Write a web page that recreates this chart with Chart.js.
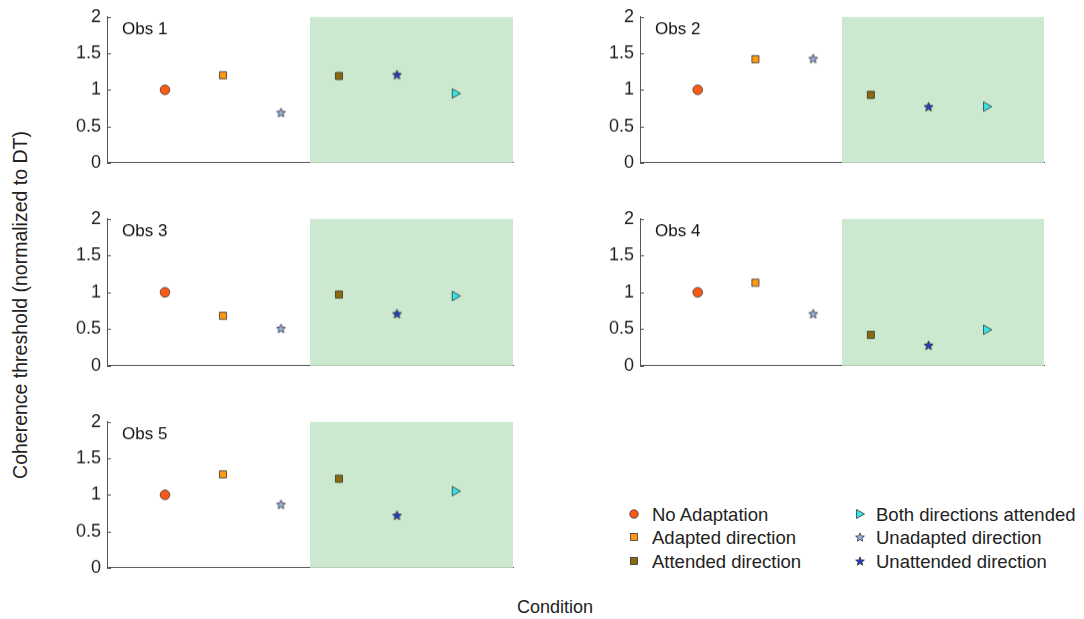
<!DOCTYPE html>
<html>
<head>
<meta charset="utf-8">
<script src="https://cdn.jsdelivr.net/npm/chart.js@4.4.1/dist/chart.umd.min.js"></script>
<style>
  body { margin: 0; background: #fff; font-family: "Liberation Sans", Arial, sans-serif; }
  #page { position: relative; width: 1084px; height: 619px; overflow: hidden; }
  canvas.panel { position: absolute; }
  .txt { position: absolute; color: #222; white-space: nowrap; }
  #ylabel { left: 20px; top: 305px; font-size: 19.5px; transform: translate(-50%, -50%) rotate(-90deg); }
  #xlabel { left: 555px; top: 607px; font-size: 18px; transform: translate(-50%, -50%); }
  .leg { position: absolute; font-size: 18.5px; color: #222; white-space: nowrap; transform: translateY(-50%); }
  .legmark { position: absolute; transform: translate(-50%, -50%); }
</style>
</head>
<body>
<div id="page">
  <div id="ylabel" class="txt">Coherence threshold (normalized to DT)</div>
  <div id="xlabel" class="txt">Condition</div>
</div>
<script>
// Conditions, in plotting order along the x axis
const conditions = ['No Adaptation', 'Adapted direction', 'Unadapted direction',
                    'Attended direction', 'Unattended direction', 'Both directions attended'];
const xSlots = [1, 2, 3, 4, 5, 6];

// Thresholds per observer (same order as conditions)
const obs1 = [1.00, 1.20, 0.69, 1.19, 1.21, 0.95];
const obs2 = [1.00, 1.42, 1.43, 0.93, 0.77, 0.77];
const obs3 = [1.00, 0.68, 0.51, 0.97, 0.71, 0.95];
const obs4 = [1.00, 1.13, 0.71, 0.42, 0.28, 0.49];
const obs5 = [1.00, 1.28, 0.87, 1.22, 0.72, 1.05];

const obsNames = ['Obs 1', 'Obs 2', 'Obs 3', 'Obs 4', 'Obs 5'];
const yTicks = [0, 0.5, 1, 1.5, 2];

// Marker colours for each condition
const fills = ['#ff5a14', '#ff9914', '#9db1e6', '#8a6a0c', '#1f3fd0', '#33e6e6'];

function makeStar(fill, size) {
    const c = document.createElement('canvas');
    c.width = size; c.height = size;
    const ctx = c.getContext('2d');
    const cx = size / 2, cy = size / 2 + 0.5, R = size / 2 - 0.8, r = R * 0.45;
    ctx.beginPath();
    for (let i = 0; i < 10; i++) {
        const a = -Math.PI / 2 + i * Math.PI / 5;
        const rad = i % 2 ? r : R;
        const px = cx + rad * Math.cos(a), py = cy + rad * Math.sin(a);
        if (i === 0) ctx.moveTo(px, py); else ctx.lineTo(px, py);
    }
    ctx.closePath();
    ctx.fillStyle = fill;
    ctx.fill();
    ctx.lineWidth = 0.8;
    ctx.strokeStyle = '#222';
    ctx.stroke();
    return c;
}

const starLight = makeStar(fills[2], 11);
const starDark = makeStar(fills[4], 11);
const pointStyles = ['circle', 'rect', starLight, 'rect', starDark, 'triangle'];
const pointRadii = [4.8, 5, 5, 5, 5, 5.5];
const rotations = [0, 0, 0, 0, 0, 90];

// Green "attention" region, inner ticks and panel title
const panelPlugin = {
    id: 'panelDecor',
    beforeDatasetsDraw(chart, args, opts) {
        const { ctx, chartArea, scales } = chart;
        const x0 = scales.x.getPixelForValue(3.5);
        const x1 = scales.x.getPixelForValue(7);
        ctx.save();
        ctx.fillStyle = '#cce9cf';
        ctx.fillRect(x0, chartArea.top, x1 - x0, chartArea.bottom - chartArea.top);
        // small inward tick marks
        ctx.strokeStyle = '#555';
        ctx.lineWidth = 1;
        yTicks.forEach(v => {
            const py = Math.round(scales.y.getPixelForValue(v)) + 0.5;
            ctx.beginPath();
            ctx.moveTo(chartArea.left, py);
            ctx.lineTo(chartArea.left + 4, py);
            ctx.stroke();
        });
        ctx.fillStyle = '#111';
        ctx.font = '17px "Liberation Sans", Arial, sans-serif';
        ctx.textBaseline = 'middle';
        ctx.fillText(opts.title, chartArea.left + 15, chartArea.top + 13);
        ctx.restore();
    }
};

// Panel placement: chart area left/right/top/bottom in page pixels
const panels = [
    { vals: obs1, left: 107, right: 513, top: 17, bottom: 162 },
    { vals: obs2, left: 640, right: 1044, top: 17, bottom: 162 },
    { vals: obs3, left: 107, right: 513, top: 219, bottom: 365 },
    { vals: obs4, left: 640, right: 1044, top: 219, bottom: 365 },
    { vals: obs5, left: 107, right: 513, top: 422, bottom: 567 }
];

const page = document.getElementById('page');
const axisW = 57, padR = 7;

panels.forEach((p, k) => {
    const cv = document.createElement('canvas');
    cv.className = 'panel';
    const w = (p.right - p.left) + axisW + padR;
    let h = (p.bottom - p.top) + 24;
    cv.width = w; cv.height = h;
    cv.style.left = (p.left - axisW) + 'px';
    cv.style.top = (p.top - 12) + 'px';
    page.appendChild(cv);

    const chart = new Chart(cv, {
        type: 'scatter',
        data: {
            datasets: conditions.map((c, i) => ({
                label: c,
                data: [{ x: xSlots[i], y: p.vals[i] }],
                pointStyle: pointStyles[i],
                pointRadius: pointRadii[i],
                pointRotation: rotations[i],
                backgroundColor: fills[i],
                borderColor: '#333',
                borderWidth: 0.8
            }))
        },
        plugins: [panelPlugin],
        options: {
            responsive: false,
            maintainAspectRatio: false,
            animation: false,
            events: [],
            layout: { padding: { top: 0, bottom: 0, right: padR, left: 0 } },
            scales: {
                x: {
                    type: 'linear',
                    min: 0,
                    max: 7,
                    ticks: { display: false },
                    grid: { display: false, drawTicks: false },
                    border: { display: true, color: '#555', width: 1 },
                    afterFit: (scale) => { scale.height = 0; }
                },
                y: {
                    min: 0,
                    max: 2,
                    afterBuildTicks: (scale) => { scale.ticks = yTicks.map(v => ({ value: v })); },
                    ticks: {
                        color: '#222',
                        padding: 6,
                        callback: (v) => String(v),
                        font: { size: 18, family: '"Liberation Sans", Arial, sans-serif' }
                    },
                    grid: { display: false, drawTicks: false },
                    border: { display: true, color: '#555', width: 1 },
                    afterFit: (scale) => { scale.width = axisW; }
                }
            },
            plugins: {
                legend: { display: false },
                tooltip: { enabled: false },
                panelDecor: { title: obsNames[k] }
            }
        }
    });

    // second pass: size the canvas so the plot area lands where it should
    const dTop = chart.chartArea.top;
    const dBot = h - chart.chartArea.bottom;
    h = (p.bottom - p.top) + dTop + dBot;
    cv.style.top = (p.top - dTop) + 'px';
    chart.resize(w, h);
});

// Legend (two columns, three rows)
const legendSpots = [
    { mx: 634, tx: 652, y: 515 },
    { mx: 634, tx: 652, y: 538 },
    { mx: 634, tx: 652, y: 562 },
    { mx: 860, tx: 876, y: 515 },
    { mx: 860, tx: 876, y: 538 },
    { mx: 860, tx: 876, y: 562 }
];
const legendOrder = [0, 1, 3, 5, 2, 4];
const legendShapes = {
    0: '<circle cx="6" cy="6" r="4.2" />',
    1: '<rect x="2.5" y="2.5" width="7" height="7" />',
    3: '<rect x="2.5" y="2.5" width="7" height="7" />',
    5: '<polygon points="2.5,1.5 10.5,6 2.5,10.5" />',
    2: 'star',
    4: 'star'
};
function starPoints(cx, cy, R, r) {
    const pts = [];
    for (let i = 0; i < 10; i++) {
        const a = -Math.PI / 2 + i * Math.PI / 5;
        const rad = i % 2 ? r : R;
        pts.push((cx + rad * Math.cos(a)).toFixed(2) + ',' + (cy + rad * Math.sin(a)).toFixed(2));
    }
    return pts.join(' ');
}
legendOrder.forEach((ci, j) => {
    const s = legendSpots[j];
    let shape = legendShapes[ci];
    if (shape === 'star') shape = '<polygon points="' + starPoints(6, 6.5, 4.6, 2) + '" />';
    const mk = document.createElement('div');
    mk.className = 'legmark';
    mk.style.left = s.mx + 'px';
    mk.style.top = s.y + 'px';
    mk.innerHTML = '<svg width="12" height="12" viewBox="0 0 12 12"><g fill="' + fills[ci] +
        '" stroke="#333" stroke-width="0.8">' + shape + '</g></svg>';
    page.appendChild(mk);
    const t = document.createElement('div');
    t.className = 'leg';
    t.style.left = s.tx + 'px';
    t.style.top = s.y + 'px';
    t.textContent = conditions[ci];
    page.appendChild(t);
});
</script>
</body>
</html>
